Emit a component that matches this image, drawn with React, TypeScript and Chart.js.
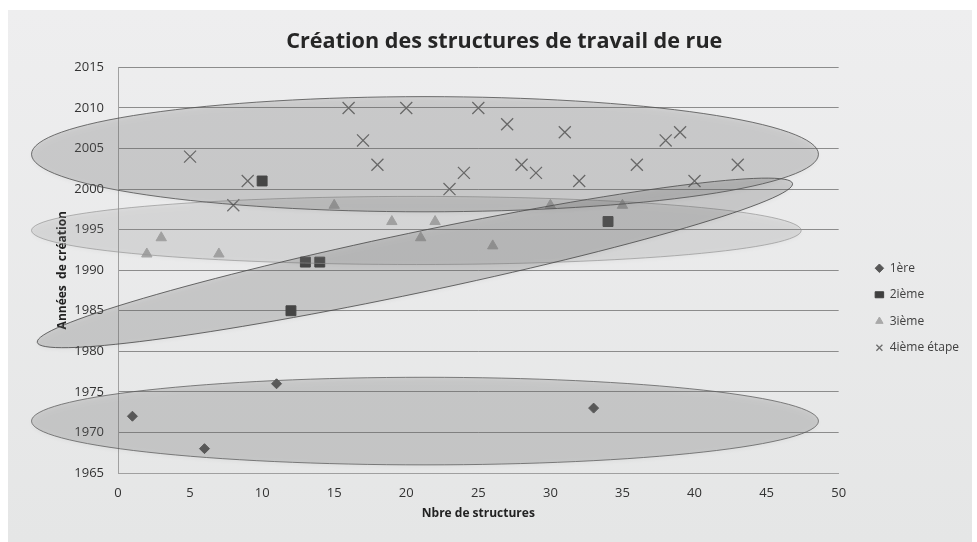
import React, { useEffect, useRef } from 'react';
import { Chart, registerables } from 'chart.js';

Chart.register(...registerables);

const TITLE = 'Création des structures de travail de rue';
const X_TITLE = 'Nbre de structures';
const Y_TITLE = 'Années  de création';
const SERIES_NAMES = ['1ère', '2ième', '3ième', '4ième étape'];

const X_MIN = 0;
const X_MAX = 50;
const X_STEP = 5;
const Y_MIN = 1965;
const Y_MAX = 2015;
const Y_STEP = 5;

// 1ère étape
const s1X = [1, 6, 11, 33];
const s1Y = [1972, 1968, 1976, 1973];
// 2ième étape
const s2X = [10, 12, 13, 14, 34];
const s2Y = [2001, 1985, 1991, 1991, 1996];
// 3ième étape
const s3X = [2, 3, 7, 15, 19, 21, 22, 26, 30, 35];
const s3Y = [1992, 1994, 1992, 1998, 1996, 1994, 1996, 1993, 1998, 1998];
// 4ième étape
const s4X = [5, 8, 9, 16, 17, 18, 20, 23, 24, 25, 27, 28, 29, 31, 32, 36, 38, 39, 40, 43];
const s4Y = [2004, 1998, 2001, 2010, 2006, 2003, 2010, 2000, 2002, 2010, 2008, 2003, 2002, 2007, 2001, 2003, 2006, 2007, 2001, 2003];

// Grouping ellipses (annotation), in data units: two tips and the half-thickness (years)
const ELL_X1 = [-6.0, -6.0, -5.6, -6.0];
const ELL_Y1 = [1971.4, 1994.9, 1981.1, 2004.3];
const ELL_X2 = [48.6, 47.4, 46.8, 48.6];
const ELL_Y2 = [1971.4, 1994.9, 2000.7, 2004.3];
const ELL_MINOR = [5.4, 4.2, 3.8, 7.1];
const ELL_FILL = ['rgba(110,110,110,0.22)', 'rgba(150,150,150,0.18)', 'rgba(105,105,105,0.22)', 'rgba(110,110,110,0.22)'];
const ELL_STROKE = ['rgba(90,90,90,0.75)', 'rgba(150,150,150,0.7)', 'rgba(70,70,70,0.8)', 'rgba(80,80,80,0.8)'];

const FONT = '"Open Sans", "DejaVu Sans", sans-serif';

const toPoints = (xs: number[], ys: number[]) => xs.map((x, i) => ({ x, y: ys[i] }));

const backgroundPlugin = {
  id: 'bgFill',
  beforeDraw(chart: any) {
    const { ctx, width, height } = chart;
    ctx.save();
    const g = ctx.createLinearGradient(0, 0, 0, height);
    g.addColorStop(0, '#eeeeef');
    g.addColorStop(1, '#e5e6e6');
    ctx.fillStyle = g;
    ctx.fillRect(0, 0, width, height);
    ctx.restore();
  },
};

const nudgePlugin = {
  id: 'boxNudge',
  afterLayout(chart: any) {
    const area = chart.chartArea;
    const t = chart.titleBlock;
    if (t) {
      const target = (area.left + area.right) / 2 + 26;
      const dx = target - (t.left + t.right) / 2;
      t.left += dx;
      t.right += dx;
    }
    const l = chart.legend;
    if (l) {
      const dx = area.right + 22 - l.left;
      l.left += dx;
      l.right += dx;
      l.top += 32;
      l.bottom += 32;
    }
  },
};

const ellipsePlugin = {
  id: 'groupEllipses',
  afterDatasetsDraw(chart: any) {
    const { ctx } = chart;
    const xs = chart.scales.x;
    const ys = chart.scales.y;
    const pxPerYear = Math.abs(ys.getPixelForValue(Y_MIN) - ys.getPixelForValue(Y_MIN + 1));
    for (let i = 0; i < ELL_X1.length; i++) {
      const ax = xs.getPixelForValue(ELL_X1[i]);
      const ay = ys.getPixelForValue(ELL_Y1[i]);
      const bx = xs.getPixelForValue(ELL_X2[i]);
      const by = ys.getPixelForValue(ELL_Y2[i]);
      const cx = (ax + bx) / 2;
      const cy = (ay + by) / 2;
      const a = Math.hypot(bx - ax, by - ay) / 2;
      const ang = Math.atan2(by - ay, bx - ax);
      const b = ELL_MINOR[i] * pxPerYear * Math.cos(ang);
      ctx.save();
      ctx.beginPath();
      ctx.ellipse(cx, cy, a, b, ang, 0, Math.PI * 2);
      ctx.shadowColor = 'rgba(0,0,0,0.18)';
      ctx.shadowBlur = 4;
      ctx.shadowOffsetY = 2;
      ctx.fillStyle = ELL_FILL[i];
      ctx.fill();
      ctx.shadowColor = 'rgba(0,0,0,0)';
      ctx.lineWidth = 1;
      ctx.strokeStyle = ELL_STROKE[i];
      ctx.stroke();
      ctx.restore();
    }
  },
};

export default function App() {
  const ref = useRef<HTMLCanvasElement | null>(null);

  useEffect(() => {
    if (!ref.current) return;
    const chart = new Chart(ref.current, {
      type: 'scatter',
      data: {
        datasets: [
          {
            label: SERIES_NAMES[0],
            data: toPoints(s1X, s1Y),
            pointStyle: 'rectRot',
            pointRadius: 5,
            backgroundColor: '#575757',
            borderColor: '#575757',
            borderWidth: 1,
          },
          {
            label: SERIES_NAMES[1],
            data: toPoints(s2X, s2Y),
            pointStyle: 'rect',
            pointRadius: 7,
            backgroundColor: '#3f3f3f',
            borderColor: '#3f3f3f',
            borderWidth: 1,
          },
          {
            label: SERIES_NAMES[2],
            data: toPoints(s3X, s3Y),
            pointStyle: 'triangle',
            pointRadius: 6,
            backgroundColor: '#a9a9a9',
            borderColor: '#a9a9a9',
            borderWidth: 1,
          },
          {
            label: SERIES_NAMES[3],
            data: toPoints(s4X, s4Y),
            pointStyle: 'crossRot',
            pointRadius: 8.5,
            backgroundColor: 'rgba(0,0,0,0)',
            borderColor: '#6c6c6c',
            borderWidth: 1.3,
          },
        ],
      },
      options: {
        responsive: false,
        animation: false,
        events: [],
        devicePixelRatio: 1,
        layout: { padding: { left: 0, right: 25, top: 0, bottom: 0 } },
        plugins: {
          title: {
            display: true,
            text: TITLE,
            color: '#262626',
            font: { family: FONT, size: 21.6, weight: 'bold' },
            padding: { top: 19, bottom: 12.5 },
          },
          legend: {
            position: 'right',
            labels: {
              usePointStyle: true,
              pointStyleWidth: 8.5,
              boxHeight: 6,
              padding: 14.5,
              color: '#404040',
              font: { family: FONT, size: 12 },
            },
          },
          tooltip: { enabled: false },
        },
        scales: {
          x: {
            type: 'linear',
            min: X_MIN,
            max: X_MAX,
            ticks: {
              stepSize: X_STEP,
              padding: 4,
              color: '#333333',
              font: { family: FONT, size: 13 },
              callback: (v: any) => String(v),
            },
            grid: { display: false },
            border: { display: true, color: '#a0a0a0' },
            title: {
              display: true,
              text: X_TITLE,
              color: '#222222',
              font: { family: FONT, size: 12, weight: 'bold' },
              padding: { top: 7, bottom: 21 },
            },
            afterFit: (s: any) => {
              s.height = 69;
            },
          },
          y: {
            type: 'linear',
            min: Y_MIN,
            max: Y_MAX,
            ticks: {
              stepSize: Y_STEP,
              padding: 14,
              color: '#333333',
              font: { family: FONT, size: 13 },
              callback: (v: any) => String(v),
            },
            grid: { color: '#8c8c8c', lineWidth: 1, drawTicks: false },
            border: { display: true, color: '#a0a0a0' },
            title: {
              display: true,
              text: Y_TITLE,
              color: '#222222',
              font: { family: FONT, size: 12, weight: 'bold' },
              padding: { top: 47, bottom: 0 },
            },
            afterFit: (s: any) => {
              s.width = 110;
            },
          },
        },
      },
      plugins: [backgroundPlugin, nudgePlugin, ellipsePlugin],
    } as any);
    return () => chart.destroy();
  }, []);

  return (
    <div style={{ position: 'fixed', left: 8, top: 10, width: 964, height: 532 }}>
      <canvas ref={ref} width={964} height={532} style={{ display: 'block' }} />
    </div>
  );
}
